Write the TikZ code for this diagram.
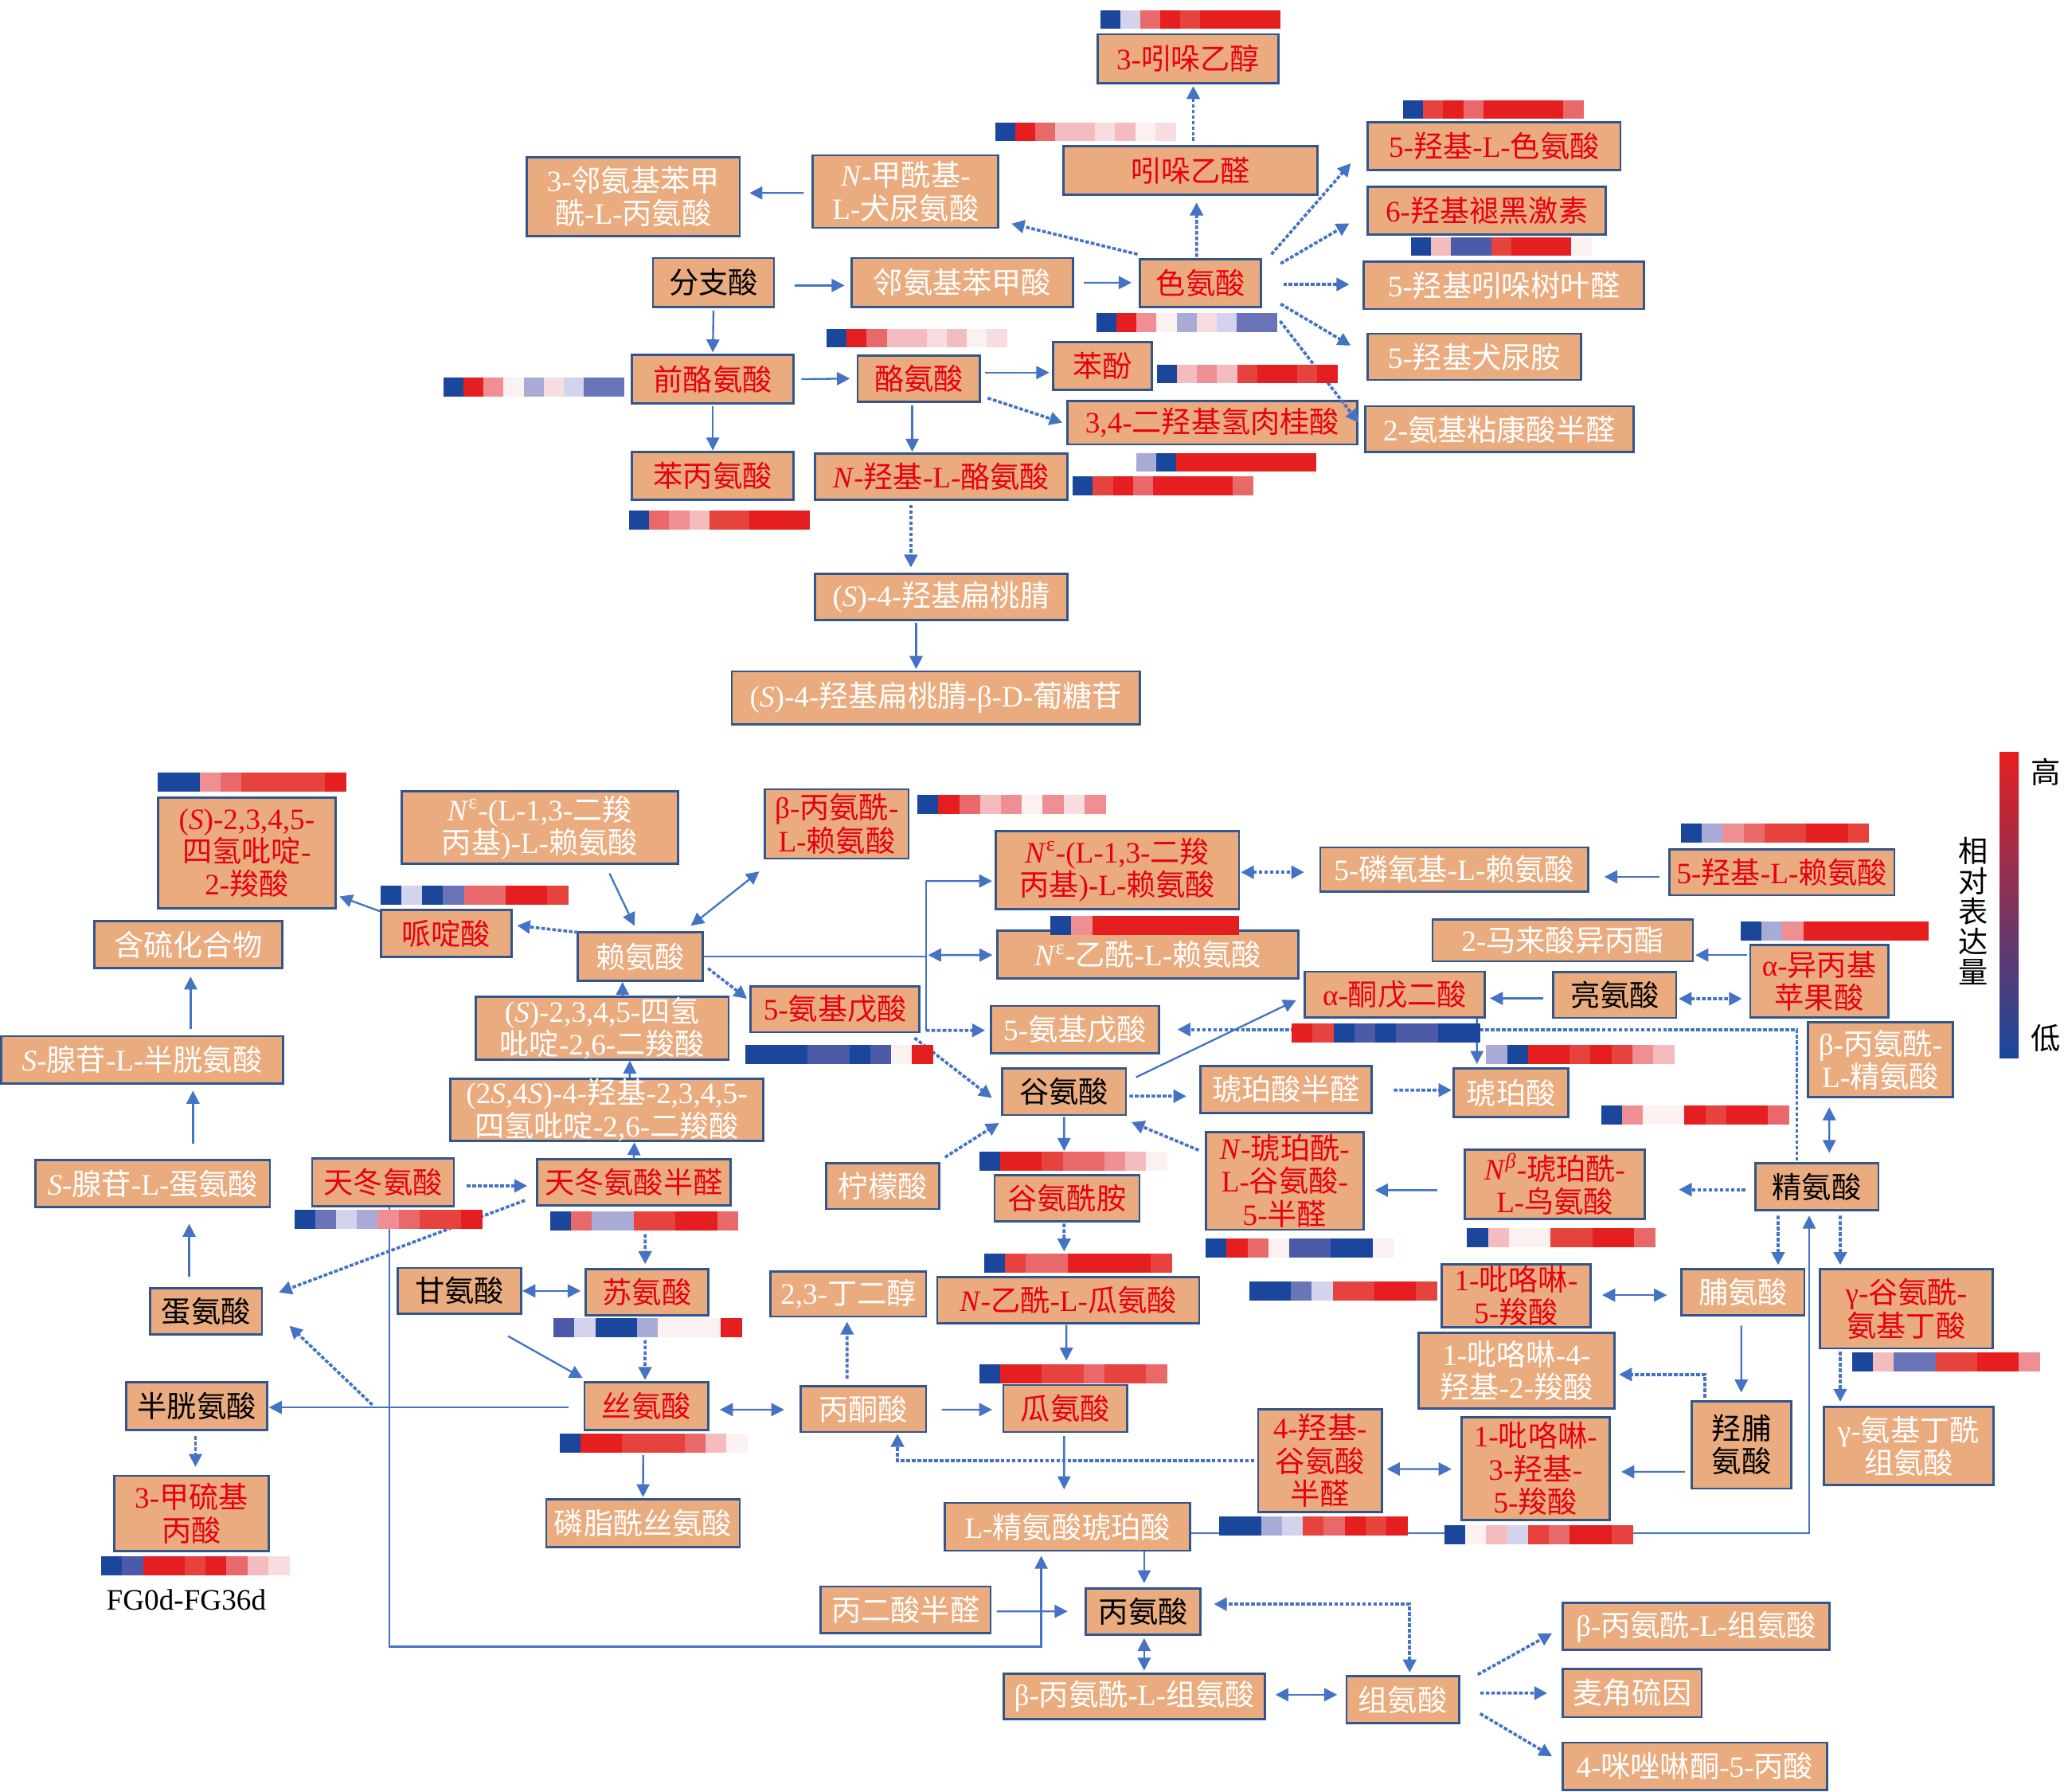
\documentclass[tikz,border=0pt]{standalone}
\usepackage{fontspec}
\setmainfont{Liberation Serif}
\newfontfamily\cjkfont{Noto Sans CJK SC}
\usepackage{tikz}
\usetikzlibrary{arrows.meta, calc}

% Han characters in the CJK font, everything else in the serif
\XeTeXinterchartokenstate=1
\chardef\hanclass=7
\newcount\hancode
\hancode="4E00
\loop
  \XeTeXcharclass\hancode=\hanclass
  \advance\hancode by 1
\ifnum\hancode<"A000 \repeat
\XeTeXcharclass`\(=0
\XeTeXcharclass`\)=0
\XeTeXinterchartoks 0 \hanclass = {\cjkfont}
\XeTeXinterchartoks 4095 \hanclass = {\cjkfont}
\XeTeXinterchartoks \hanclass 0 = {\normalfont}

\definecolor{peach}{HTML}{EAAB7E}
\definecolor{edgeblue}{HTML}{30558F}
\definecolor{arrowblue}{HTML}{4472C4}
\definecolor{hitred}{HTML}{E60012}
% heat map steps
\definecolor{hb1}{HTML}{1A479B}
\definecolor{hb2}{HTML}{4B5BA8}
\definecolor{hb3}{HTML}{6A75B9}
\definecolor{hb4}{HTML}{A9ABD7}
\definecolor{hb5}{HTML}{D3D3EB}
\definecolor{hw}{HTML}{FBF1F1}
\definecolor{hr6}{HTML}{F8DDE0}
\definecolor{hr5}{HTML}{F5BCC0}
\definecolor{hr4}{HTML}{EF8F93}
\definecolor{hr3}{HTML}{E9686A}
\definecolor{hr2}{HTML}{E6423E}
\definecolor{hr1}{HTML}{E51F1F}

\newcommand\heatw{15.2}
\newcommand\heath{14}
% x, y of the top left corner, nine colours
\newcommand\heatrow[3]{%
  \foreach \hc [count=\hi from 0] in {#3}
    \fill[\hc] ({#1+\hi*\heatw},#2) rectangle +(\heatw+0.4,\heath);}

\begin{document}
\begin{tikzpicture}[x=0.025cm, y=-0.025cm,
    >={Triangle[length=7pt,width=7pt]},
    met/.style={draw=edgeblue, fill=peach, line width=1.2pt, inner sep=0pt,
      align=center, font=\fontsize{16}{17.8}\selectfont},
    hit/.style={met, text=hitred},
    miss/.style={met, text=white},
    known/.style={met, text=black},
    sz/.style 2 args={minimum width=#1*0.25mm, minimum height=#2*0.25mm},
    flow/.style={->, draw=arrowblue, line width=1pt},
    trans/.style={flow, line width=1.6pt, dash pattern=on 2pt off 1pt},
    txt/.style={inner sep=0pt, font=\fontsize{16}{17.8}\selectfont}]

  \useasboundingbox (0,0) rectangle (1568,1361);

  % Nodes: aromatic amino acids
  \node[hit, sz={137}{37}] (iet) at (902.5,44.5) {3-吲哚乙醇};
  \node[hit, sz={193}{37}] (ald) at (904.5,129.5) {吲哚乙醛};
  \node[hit, sz={192}{36}] (htp) at (1135,111) {5-羟基-L-色氨酸};
  \node[hit, sz={181}{36}] (hmel) at (1129.5,160) {6-羟基褪黑激素};
  \node[miss, sz={213}{36}] (hial) at (1142.5,216.7) {5-羟基吲哚树叶醛};
  \node[miss, sz={162}{35}] (hkyn) at (1120,271) {5-羟基犬尿胺};
  \node[miss, sz={204}{35}] (amsa) at (1139,326) {2-氨基粘康酸半醛};
  \node[hit, sz={220}{33}] (dhca) at (921,321) {3,4-二羟基氢肉桂酸};
  \node[hit, sz={92}{36}] (trp) at (912,215) {色氨酸};
  \node[hit, sz={75}{36}] (phol) at (837.5,278) {苯酚};
  \node[miss, sz={141}{55}] (nfk) at (688,145.5) {\textit{N}-甲酰基-\\L-犬尿氨酸};
  \node[miss, sz={162}{60}] (aaa) at (481,149.5) {3-邻氨基苯甲\\酰-L-丙氨酸};
  \node[known, sz={92}{37}] (cho) at (542,214.5) {分支酸};
  \node[miss, sz={168}{37}] (ant) at (731,214.5) {邻氨基苯甲酸};
  \node[hit, sz={123}{37}] (ptyr) at (541.5,288) {前酪氨酸};
  \node[hit, sz={93}{35}] (tyr) at (698,287.5) {酪氨酸};
  \node[hit, sz={123}{36}] (phe) at (541.5,361.5) {苯丙氨酸};
  \node[hit, sz={192}{35}] (nht) at (715,362) {\textit{N}-羟基-L-酪氨酸};
  \node[miss, sz={192}{35}] (hmn) at (715,453.5) {(\textit{S})-4-羟基扁桃腈};
  \node[miss, sz={310}{40}] (hmng) at (711,530) {(\textit{S})-4-羟基扁桃腈-β-D-葡糖苷};

  % Nodes: the rest of the network
  \node[hit, sz={135}{84}] (thpc) at (187.5,648) {(\textit{S})-2,3,4,5-\\四氢吡啶-\\2-羧酸};
  \node[miss, sz={143}{36}] (sulf) at (143,717.5) {含硫化合物};
  \node[miss, sz={214}{36}] (sah) at (108,805) {\textit{S}-腺苷-L-半胱氨酸};
  \node[miss, sz={178}{36}] (sam) at (116,899) {\textit{S}-腺苷-L-蛋氨酸};
  \node[known, sz={85}{35}] (met) at (156.5,996) {蛋氨酸};
  \node[known, sz={107}{36}] (cys) at (149.5,1068) {半胱氨酸};
  \node[hit, sz={117}{57}] (mtp) at (145.5,1149.5) {3-甲硫基\\丙酸};
  \node[miss, sz={210}{55}] (cdl) at (410,628.5) {\textit{N}\textsuperscript{ε}-(L-1,3-二羧\\丙基)-L-赖氨酸};
  \node[hit, sz={99}{36}] (pip) at (339,709) {哌啶酸};
  \node[miss, sz={95}{37}] (lys) at (486.5,726.5) {赖氨酸};
  \node[hit, sz={109}{52.5}] (bal) at (635.7,625.8) {β-丙氨酰-\\L-赖氨酸};
  \node[miss, sz={192}{46}] (thdp) at (457.5,781) {(\textit{S})-2,3,4,5-四氢\\吡啶-2,6-二羧酸};
  \node[hit, sz={128}{35}] (ava1) at (634.4,766.5) {5-氨基戊酸};
  \node[miss, sz={238}{42}] (hthdp) at (461,843) {(2\textit{S},4\textit{S})-4-羟基-2,3,4,5-\\四氢吡啶-2,6-二羧酸};
  \node[hit, sz={107.6}{36}] (asp) at (291,898) {天冬氨酸};
  \node[hit, sz={147}{35}] (asa) at (481.5,898) {天冬氨酸半醛};
  \node[known, sz={94}{35}] (gly) at (349,980.5) {甘氨酸};
  \node[hit, sz={93}{35}] (thr) at (491.5,981.5) {苏氨酸};
  \node[hit, sz={94}{36}] (ser) at (491,1068) {丝氨酸};
  \node[miss, sz={147}{36}] (pser) at (488.5,1157) {磷脂酰丝氨酸};
  \node[miss, sz={118}{34}] (btd) at (644.5,983) {2,3-丁二醇};
  \node[miss, sz={95.5}{34.6}] (pyr) at (655.8,1070.4) {丙酮酸};
  \node[miss, sz={86}{35}] (cit) at (670.7,900.8) {柠檬酸};
  \node[hit, sz={185}{59}] (cdl2) at (848.8,660.8) {\textit{N}\textsuperscript{ε}-(L-1,3-二羧\\丙基)-L-赖氨酸};
  \node[miss, sz={229}{36.5}] (acl) at (872,725) {\textit{N}\textsuperscript{ε}-乙酰-L-赖氨酸};
  \node[miss, sz={128}{36}] (ava2) at (816.7,782) {5-氨基戊酸};
  \node[known, sz={94}{35.5}] (glu) at (808.4,829.2) {谷氨酸};
  \node[hit, sz={110}{35}] (gln) at (810.6,910) {谷氨酰胺};
  \node[hit, sz={199}{35}] (nacit) at (811.5,987.5) {\textit{N}-乙酰-L-瓜氨酸};
  \node[hit, sz={94}{35.7}] (citr) at (809.2,1069.8) {瓜氨酸};
  \node[miss, sz={186}{36.3}] (asuc) at (811,1159.7) {L-精氨酸琥珀酸};
  \node[miss, sz={129}{35.3}] (msa) at (688,1222.7) {丙二酸半醛};
  \node[known, sz={87}{35.3}] (ala) at (868.5,1224) {丙氨酸};
  \node[miss, sz={198.7}{34.5}] (carn1) at (861.8,1288.3) {β-丙氨酰-L-组氨酸};
  \node[miss, sz={85.4}{35.6}] (his) at (1065.6,1291) {组氨酸};
  \node[miss, sz={202.8}{35.7}] (carn2) at (1288.6,1235.5) {β-丙氨酰-L-组氨酸};
  \node[miss, sz={105.4}{36.7}] (erg) at (1240,1285.9) {麦角硫因};
  \node[miss, sz={200.7}{36}] (imp) at (1287.5,1341.6) {4-咪唑啉酮-5-丙酸};
  \node[miss, sz={203.5}{33.8}] (plys) at (1104.7,660.5) {5-磷氧基-L-赖氨酸};
  \node[hit, sz={170.8}{34.8}] (hlys) at (1353.7,662.6) {5-羟基-L-赖氨酸};
  \node[miss, sz={197.8}{31.8}] (ipm) at (1187.2,714.3) {2-马来酸异丙酯};
  \node[hit, sz={104.7}{54.8}] (ipma) at (1382,745.2) {α-异丙基\\苹果酸};
  \node[known, sz={93.4}{34.9}] (leu) at (1226.7,755.7) {亮氨酸};
  \node[hit, sz={137}{34.6}] (akg) at (1059.5,755.3) {α-酮戊二酸};
  \node[miss, sz={130}{36}] (ssa) at (977,827.5) {琥珀酸半醛};
  \node[miss, sz={87}{36.5}] (suc) at (1148,830) {琥珀酸};
  \node[miss, sz={109.8}{56.7}] (barg) at (1428.6,805) {β-丙氨酰-\\L-精氨酸};
  \node[hit, sz={120}{74}] (sgsa) at (976,897) {\textit{N}-琥珀酰-\\L-谷氨酸-\\5-半醛};
  \node[hit, sz={137}{52.9}] (sorn) at (1181.2,899.5) {\textit{N}\textsuperscript{\textit{β}}-琥珀酰-\\L-鸟氨酸};
  \node[known, sz={93.7}{35.9}] (arg) at (1380.2,901.3) {精氨酸};
  \node[hit, sz={113}{47.6}] (p5c) at (1151.8,984.2) {1-吡咯啉-\\5-羧酸};
  \node[miss, sz={93.4}{35.2}] (pro) at (1324.1,981.6) {脯氨酸};
  \node[hit, sz={130.8}{60.2}] (ggaba) at (1448.2,994.1) {γ-谷氨酰-\\氨基丁酸};
  \node[miss, sz={149}{57.3}] (hpc) at (1152,1041.2) {1-吡咯啉-4-\\羟基-2-羧酸};
  \node[known, sz={75.2}{66.3}] (hyp) at (1323,1097.4) {羟脯\\氨酸};
  \node[miss, sz={129}{59.3}] (hcarn) at (1449.9,1098.3) {γ-氨基丁酰\\组氨酸};
  \node[hit, sz={94}{78}] (hgsa) at (1002.8,1109.4) {4-羟基-\\谷氨酸\\半醛};
  \node[hit, sz={112.6}{78}] (hp5c) at (1166.5,1115.6) {1-吡咯啉-\\3-羟基-\\5-羧酸};

  % Paths: aromatic amino acids
  \draw[trans] ($(ald.north)+(2,-3)$) -- ($(iet.south)+(4,1.5)$);
  \draw[trans] ($(trp.north)+(-3,-1)$) -- ($(ald.south)+(4.5,5)$);
  \draw[trans] ($(trp.north west)+(-1,-3)$) -- ($(nfk.south east)+(9,-4)$);
  \draw[flow] ($(nfk.west)+(-6,1)$) -- ($(aaa.east)+(6.5,-2.9)$);
  \draw[flow] ($(cho.east)+(15,2.3)$) -- ($(ant.west)+(-4.5,2.3)$);
  \draw[flow] ($(ant.east)+(7.5,0.2)$) -- ($(trp.west)+(-5.5,-0.3)$);
  \draw[trans] ($(trp.north east)+(7,-3)$) -- ($(htp.west)+(-12,13)$);
  \draw[trans] ($(trp.north east)+(14,4)$) -- ($(hmel.west)+(-13,9.6)$);
  \draw[trans] ($(trp.east)+(16,1)$) -- ($(hial.west)+(-10,-0.7)$);
  \draw[trans] ($(trp.south east)+(14,-3)$) -- ($(hkyn.west)+(-12,-8.5)$);
  \draw[trans] ($(trp.south east)+(13.6,10)$) -- ($(amsa.west)+(-4,-5)$);
  \draw[flow] ($(cho.south)+(0,2)$) -- ($(ptyr.north)+(0,-1)$);
  \draw[flow] ($(ptyr.east)+(5,0)$) -- ($(tyr.west)+(-5,0)$);
  \draw[flow] ($(ptyr.south)+(0,1)$) -- ($(phe.north)+(0,-0.5)$);
  \draw[flow] ($(tyr.east)+(3,-4.5)$) -- ($(phol.west)+(-2,5)$);
  \draw[trans] ($(tyr.south east)+(5,-3.5)$) -- ($(dhca.west)+(-3,0)$);
  \draw[flow] ($(tyr.south)+(-5,2)$) -- ($(nht.north)+(-22,-0.5)$);
  \draw[trans] ($(nht.south)+(-23,3)$) -- ($(hmn.north)+(-23,-4)$);
  \draw[flow] ($(hmn.south)+(-19,1)$) -- ($(hmng.north)+(-15,-1)$);

  % Paths: lysine, aspartate, sulfur
  \draw[flow] ($(pip.north west)+(0,2)$) -- ($(thpc.south east)+(2,-10)$);
  \draw[trans] ($(lys.north west)+(1,1)$) -- ($(pip.east)+(3.5,-6)$);
  \draw[flow] ($(cdl.south)+(53,6.5)$) -- ($(lys.north)+(-4.5,-4)$);
  \draw[flow, <->] ($(lys.north east)+(-10,-4)$) -- ($(bal.south west)+(-3.5,9)$);
  \draw[trans] ($(lys.east)+(3,9)$) -- ($(ava1.west)+(-2,-8)$);
  \draw[flow] ($(thdp.north)+(15.4,0)$) -- ($(lys.south)+(-13.6,0)$);
  \draw[flow] ($(hthdp.north)+(17.4,0)$) -- ($(thdp.south)+(21,0)$);
  \draw[flow] (asa.north) -- ($(hthdp.south)+(21,0)$);
  \draw[trans] ($(asp.east)+(9,2.7)$) -- ($(asa.west)+(-6.6,2.7)$);
  \draw[trans] ($(asa.south)+(8.6,21)$) -- ($(thr.north)+(-1.4,-3)$);
  \draw[trans] ($(asa.south west)+(-8.4,-4.6)$) -- ($(met.north east)+(12,4)$);
  \draw[flow, <->] (gly.east) -- ($(thr.west)+(-3,-1)$);
  \draw[flow] ($(gly.south)+(37,16)$) -- ($(ser.north west)+(-0.5,-2.4)$);
  \draw[trans] ($(thr.south)+(-1.4,18)$) -- ($(ser.north)+(-1,-1)$);
  \draw[flow] ($(ser.west)+(-11.4,1)$) -- ($(cys.east)+(0.4,1)$);
  \coordinate (fork) at ($(cys.east)!0.33!(ser.west)$);
  \draw[trans] ($(fork)+(0,-1)$) -- ($(met.south east)+(20,-7.4)$);
  \draw[flow] ($(asp.south)+(5,0)$) |- ($(asuc.south)+(-20,72)$) -- ($(asuc.south)+(-20,3)$);
  \draw[flow] ($(met.north)+(-12.8,-8)$) -- ($(sam.south)+(27.7,11.7)$);
  \draw[flow] ($(sam.north)+(30.6,-11.7)$) -- ($(sah.south)+(38.6,4.6)$);
  \draw[flow] ($(sah.north)+(36.8,-4.4)$) -- ($(sulf.south)+(1.8,5.4)$);
  \draw[trans] ($(cys.south)+(-1,4)$) -- ($(mtp.north)+(3,-6)$);
  \draw[flow] ($(ser.south)+(-2.4,18.5)$) -- ($(pser.north)+(0,-1)$);
  \draw[flow, <->] ($(ser.east)+(8,2.7)$) -- ($(pyr.west)+(-11.4,0.3)$);
  \draw[trans] ($(pyr.north)+(-12.3,-5)$) -- ($(btd.south)+(-1,3)$);
  \draw[flow] ($(pyr.east)+(11,0.3)$) -- ($(citr.west)+(-7.6,0.9)$);
  \draw[trans] ($(hgsa.west)+(-2,0.1)$) -| ($(pyr.south)+(26,0.5)$);

  % Paths: urea cycle, alanine, histidine
  \draw[flow] ($(nacit.south)+(-1.4,0.5)$) -- ($(citr.north)+(0.9,-17.6)$);
  \draw[flow] ($(citr.south)+(-0.8,2.3)$) -- ($(asuc.north)+(-2.6,-9.5)$);
  \draw[flow] ($(asuc.south)+(58.2,0)$) -- ($(ala.north)+(0.7,-3)$);
  \draw[flow] ($(msa.east)+(3.8,1.2)$) -- ($(ala.west)+(-13.1,-0.1)$);
  \draw[flow, <->] ($(ala.south)+(0.7,1.7)$) -- ($(carn1.north)+(7.4,-1.3)$);
  \draw[flow, <->] ($(carn1.east)+(6.9,-1.1)$) -- ($(his.west)+(-6.2,-3.8)$);
  \draw[trans, <->] ($(his.north)+(5.3,-2)$) |- ($(ala.east)+(9.3,-5.6)$);
  \draw[trans] ($(his.north east)+(13.5,-0.5)$) -- ($(carn2.west)+(-7.2,5)$);
  \draw[trans] ($(his.east)+(15.3,-5)$) -- ($(erg.west)+(-11,0.1)$);
  \draw[trans] ($(his.east)+(15.3,10.6)$) -- ($(imp.west)+(-7.2,-7.6)$);

  % Paths: lysine branch, glutamate, arginine, proline
  \coordinate (kbr) at ($(lys.east)+(168.5,0)$);
  \draw[flow, -] (lys.east) -- (kbr);
  \draw[flow, -] ($(kbr)+(0,-57.3)$) -- ($(kbr)+(0,56.1)$);
  \draw[flow] ($(kbr)+(0,-57.3)$) -- ($(cdl2.west)+(-1.7,8.4)$);
  \draw[flow, <->] ($(kbr)+(1.7,-1.1)$) -- ($(acl.west)+(-2.7,0.4)$);
  \draw[trans] ($(kbr)+(0,56.1)$) -- ($(ava2.west)+(-3.4,0.6)$);
  \draw[trans, <->] ($(cdl2.east)+(0.6,1.7)$) -- ($(plys.west)+(-11.3,2)$);
  \draw[flow] ($(hlys.west)+(-7,3.4)$) -- ($(plys.east)+(11.5,5.5)$);
  \draw[flow] ($(ipma.west)+(-1.4,-19.8)$) -- ($(ipm.east)+(1,11.1)$);
  \draw[flow] ($(leu.west)+(-7,2.6)$) -- ($(akg.east)+(3,3)$);
  \draw[trans, <->] ($(leu.east)+(1,2.9)$) -- ($(ipma.west)+(-5.4,13.4)$);
  \draw[flow] ($(akg.south)+(62.5,0.4)$) -- ($(suc.north)+(-26,-2.8)$);
  \draw[trans] ($(arg.north)+(-15.2,-1)$) |- ($(ava2.east)+(12.9,0)$);
  \draw[trans] ($(ava1.south east)+(-4.5,3.5)$) -- ($(glu.west)+(-6.9,4.8)$);
  \draw[trans] ($(glu.east)+(1.7,3.4)$) -- ($(ssa.west)+(-9.9,5.1)$);
  \draw[trans] ($(ssa.east)+(16,0.5)$) -- ($(suc.west)+(-0.9,-2)$);
  \draw[flow, <->] ($(arg.north)+(9.5,-6.8)$) -- ($(barg.south)+(-38.9,6.8)$);
  \draw[flow] ($(glu.south)+(0,0.5)$) -- ($(gln.north)+(-2.2,-17.5)$);
  \draw[trans] ($(gln.south)+(-2.2,1)$) -- ($(nacit.north)+(-3.1,-18.6)$);
  \draw[trans] ($(cit.north east)+(3.4,-3.5)$) -- ($(glu.south west)+(-1.6,5.1)$);
  \draw[trans] ($(sgsa.north west)+(-4.5,14.5)$) -- ($(glu.south east)+(3.3,4.5)$);
  \draw[flow] ($(glu.north east)+(6.8,7.6)$) -- ($(akg.west)+(-5.5,4.4)$);
  \draw[flow] ($(sorn.west)+(-20,4.5)$) -- ($(sgsa.east)+(7.6,7)$);
  \draw[trans] ($(arg.west)+(-6.4,2.3)$) -- ($(sorn.east)+(24.8,4.1)$);
  \draw[trans] ($(arg.south)+(-29.4,3.2)$) -- ($(pro.north)+(26.7,-2.3)$);
  \draw[trans] ($(arg.south)+(17.8,3.2)$) -- ($(ggaba.north)+(-50.2,-2.3)$);
  \draw[flow] ($(asuc.east)+(0,4.6)$) -| ($(arg.south)+(-5.8,3.2)$);
  \draw[flow, <->] ($(p5c.east)+(8,-0.5)$) -- ($(pro.west)+(-10.2,2.1)$);
  \draw[flow] ($(pro.south)+(-1.3,6.8)$) -- ($(hyp.north)+(-0.2,-5.7)$);
  \draw[trans] ($(ggaba.south)+(-50.2,1.8)$) -- ($(hcarn.north)+(-51.9,-3.1)$);
  \draw[trans] ($(hyp.north)+(-28,-2)$) |- ($(hpc.east)+(2.5,2.8)$);
  \draw[flow] ($(hyp.west)+(-4.4,20.5)$) -- ($(hp5c.east)+(8,2.3)$);
  \draw[flow, <->] ($(hp5c.west)+(-6.6,0.2)$) -- ($(hgsa.east)+(2.9,6.4)$);

  % Heat maps
  \heatrow{835.8}{7.6}{hb1,hb5,hr3,hr1,hr2,hr1,hr1,hr1,hr1}
  \heatrow{756}{93}{hb1,hr1,hr3,hr5,hr5,hr6,hr5,hw,hr6}
  \heatrow{1066}{76}{hb1,hr2,hr1,hr3,hr1,hr1,hr1,hr1,hr3}
  \heatrow{1072}{180}{hb1,hr5,hb2,hb2,hr2,hr1,hr1,hr1,hw}
  \heatrow{863}{344}{hb4,hb1,hr1,hr1,hr1,hr1,hr1,hr1,hr1}
  \heatrow{833}{238}{hb1,hr1,hr4,hw,hb4,hr6,hb5,hb3,hb3}
  \heatrow{879}{277}{hb1,hr5,hr4,hr5,hr2,hr1,hr1,hr2,hr1}
  \heatrow{815}{362}{hb1,hr2,hr1,hr3,hr1,hr1,hr1,hr1,hr3}
  \heatrow{337}{287}{hb1,hr1,hr4,hw,hb4,hr6,hb5,hb3,hb3}
  \heatrow{628}{250}{hb1,hr1,hr3,hr5,hr5,hr6,hr5,hw,hr6}
  \heatrow{478}{388}{hb1,hr3,hr4,hr5,hr2,hr2,hr1,hr1,hr1}
  \renewcommand\heatw{15.85}
  \renewcommand\heath{14.5}
  \heatrow{120}{587}{hb1,hb1,hr4,hr3,hr2,hr2,hr2,hr2,hr1}
  \heatrow{289}{672.5}{hb1,hb5,hb1,hb3,hr3,hr3,hr1,hr1,hr2}
  \heatrow{697}{604}{hb1,hr1,hr3,hr5,hr4,hw,hr4,hr6,hr4}
  \heatrow{798}{695.4}{hb1,hr4,hr1,hr1,hr1,hr1,hr1,hr1,hr1}
  \heatrow{566}{793.4}{hb1,hb1,hb1,hb2,hb2,hb1,hb2,hw,hr1}
  \heatrow{223.6}{919}{hb1,hb3,hb5,hb4,hr4,hr3,hr2,hr2,hr1}
  \heatrow{418}{920}{hb1,hr3,hb4,hb4,hr2,hr2,hr1,hr1,hr3}
  \heatrow{420.5}{1001}{hb2,hb5,hb1,hb1,hb4,hw,hw,hw,hr1}
  \heatrow{425}{1089}{hb1,hr1,hr1,hr2,hr2,hr2,hr3,hr5,hw}
  \heatrow{77}{1182}{hb1,hb2,hr1,hr1,hr2,hr1,hr3,hr5,hr6}
  \heatrow{744}{875}{hb1,hr1,hr1,hr2,hr3,hr3,hr4,hr5,hw}
  \heatrow{747.6}{952}{hb1,hr2,hr3,hr3,hr1,hr1,hr1,hr1,hr2}
  \heatrow{744}{1036}{hb1,hr1,hr1,hr2,hr2,hr3,hr2,hr2,hr3}
  \heatrow{916}{940.6}{hb1,hr1,hr3,hw,hb2,hb2,hb1,hb1,hw}
  \heatrow{981.3}{777.5}{hr1,hr2,hb1,hb2,hb1,hb2,hb2,hb1,hb1}
  \heatrow{1129}{793.7}{hb4,hb1,hr1,hr1,hr2,hr1,hr2,hr4,hr5}
  \heatrow{1277}{625.5}{hb1,hb4,hr4,hr3,hr2,hr2,hr1,hr1,hr2}
  \heatrow{1322.4}{699.7}{hb1,hb4,hr4,hr1,hr1,hr1,hr1,hr1,hr1}
  \heatrow{1216.3}{839.6}{hb1,hr4,hw,hw,hr1,hr2,hr1,hr1,hr3}
  \heatrow{1114.5}{932.8}{hb1,hr5,hw,hw,hr2,hr2,hr1,hr1,hr3}
  \heatrow{949}{973.3}{hb1,hb1,hb3,hb5,hr2,hr2,hr1,hr1,hr2}
  \heatrow{1407}{1027}{hb1,hr5,hb3,hb3,hr2,hr2,hr1,hr1,hr4}
  \heatrow{926.4}{1152}{hb1,hb1,hb4,hb5,hr2,hr3,hr1,hr2,hr1}
  \heatrow{1097.4}{1158.4}{hb1,hw,hr5,hb5,hr2,hr3,hr1,hr1,hr2}

  % Legend
  \shade[top color=hr1, middle color=hw, bottom color=hb1] (1519.1,571.5) rectangle (1533.6,803.7);
  \node[txt] (high) at (1554.4,586.3) {高};
  \node[txt] (low) at (1554.4,788.3) {低};
  \node[txt, align=center, font=\fontsize{16}{16.4}\selectfont] (scale) at (1499,692) {相\\对\\表\\达\\量};
  \node[txt] (period) at (141.5,1215) {FG0d-FG36d};
\end{tikzpicture}
\end{document}
